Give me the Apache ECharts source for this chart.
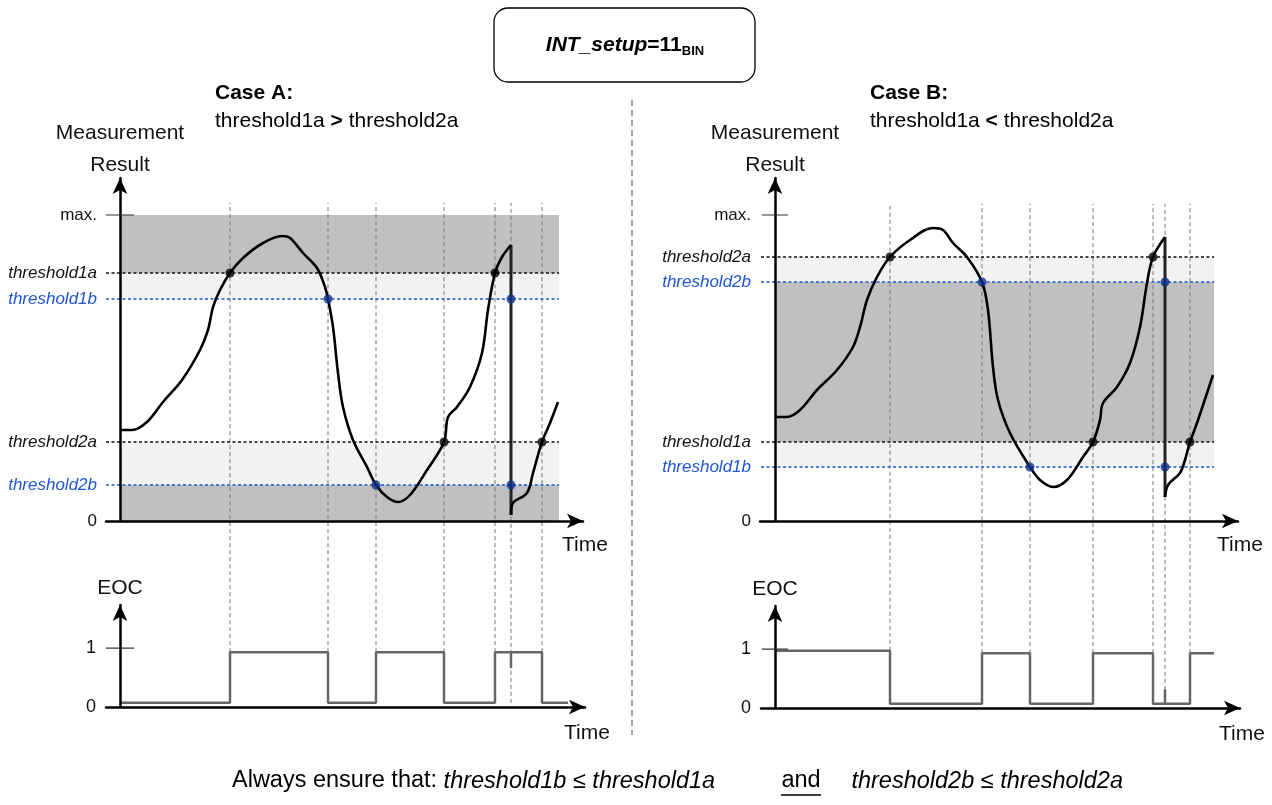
<!DOCTYPE html>
<html>
<head>
<meta charset="utf-8">
<script src="https://cdn.jsdelivr.net/npm/echarts@6/dist/echarts.min.js"></script>
<style>
  html, body { margin: 0; padding: 0; background: #fff; }
  #chart { width: 1272px; height: 805px; }
</style>
</head>
<body>
<div id="chart"></div>
<script>
/* ---------------- data (time in arbitrary units from the y axis, value in arbitrary units) ---------------- */
const thrNames = ['threshold1a', 'threshold1b', 'threshold2a', 'threshold2b'];
const maxLevel = 306;
const thrA = [248, 222, 79, 36];
const thrB = [79, 54, 264, 239];

// moments where the EOC flag changes
const eventsA = [110, 208, 256, 324, 375, 391, 422];
const eventsB = [115, 207, 255, 318, 378, 390, 415];
// EOC level where each dashed event line ends
const eventEocA = [0.93, 0.93, 0.93, 0.93, 0.93, 0.07, 0.93];
const eventEocB = [0.97, 0.93, 0.93, 0.93, 0.93, 0.07, 0.93];

// measurement curve, case A
const curveA1 = [[1, 91], [12, 91], [27, 99], [43, 119], [62, 141], [80, 171], [88, 191], [93, 214], [100, 231],
  [110, 248], [123, 263], [143, 278], [162, 285], [170, 283], [183, 268], [197, 253], [205, 234], [208, 222],
  [213, 194], [218, 148], [223, 114], [233, 81], [247, 54], [256, 36], [267, 24], [278, 19], [290, 26],
  [307, 51], [324, 79], [328, 104], [337, 114], [350, 134], [362, 168], [368, 211], [375, 248], [382, 264], [391, 276]];
const dropA = [[391, 276], [391, 6]];
const curveA2 = [[391, 6], [393, 18], [407, 28], [413, 48], [422, 79], [430, 98], [438, 119]];

// measurement curve, case B
const curveB1 = [[0, 104], [12, 104], [25, 111], [42, 131], [62, 151], [78, 174], [85, 194], [92, 221], [102, 244],
  [115, 264], [135, 281], [158, 293], [168, 291], [178, 278], [192, 264], [207, 239], [213, 211], [218, 154],
  [223, 121], [235, 88], [255, 54], [265, 41], [278, 34], [292, 41], [308, 64], [318, 79], [325, 101],
  [328, 118], [342, 134], [355, 158], [365, 194], [372, 238], [378, 264], [390, 284]];
const dropB = [[390, 284], [390, 24]];
const curveB2 = [[390, 24], [393, 36], [405, 48], [410, 61], [415, 79], [422, 98], [438, 146]];

// crossing points
const crossA_a = [[110, 248], [324, 79], [375, 248], [422, 79]];
const crossA_b = [[208, 222], [256, 36], [391, 222], [391, 36]];
const crossB_a = [[115, 264], [318, 79], [378, 264], [415, 79]];
const crossB_b = [[207, 239], [255, 54], [390, 239], [390, 54]];

// EOC flag
const eocA = [[0, 0.07], [110, 0.07], [110, 0.93], [208, 0.93], [208, 0.07], [256, 0.07], [256, 0.93], [324, 0.93],
  [324, 0.07], [375, 0.07], [375, 0.93], [391, 0.93], [391, 0.66], [391, 0.93], [422, 0.93], [422, 0.07], [448, 0.07]];
const eocB = [[0, 0.97], [115, 0.97], [115, 0.07], [207, 0.07], [207, 0.93], [255, 0.93], [255, 0.07], [318, 0.07],
  [318, 0.93], [378, 0.93], [378, 0.07], [390, 0.07], [390, 0.32], [390, 0.07], [415, 0.07], [415, 0.93], [439, 0.93]];

/* ---------------- style ---------------- */
const FONT = "'Liberation Sans',Arial,sans-serif";
const BLUE = '#1f55d0';
const NAVY = '#0b2f8a';
const DARK = '#c0c0c0';
const LIGHT = '#f2f2f2';
const bandEnd = 439;     // right edge of the shaded zone
const axisLeft = -14;    // where the horizontal axis starts
const eventTop = 8.55;   // top of the event lines in EOC units

let chart = echarts.init(document.getElementById('chart'), null, {renderer: 'canvas'});

function labelMap(thr) {
  const m = {0: '0', [maxLevel]: 'max.'};
  thr.forEach((v, i) => {
    m[v] = (i % 2 ? '{b|' : '{a|') + thrNames[i] + '}';
  });
  return m;
}

function topX(gi, min) {
  return {
    type: 'value', gridIndex: gi, min: min, max: 463, z: 6,
    axisLine: {lineStyle: {color: '#000', width: 2.5}, symbol: ['none', 'arrow'], symbolSize: [11, 16]},
    axisTick: {show: false}, axisLabel: {show: false}, splitLine: {show: false},
    name: 'Time', nameLocation: 'end', nameGap: 2,
    nameTextStyle: {fontFamily: FONT, fontSize: 21, color: '#111', align: 'center', verticalAlign: 'top', padding: [14, 0, 0, 0]}
  };
}

function topY(gi, thr) {
  const m = labelMap(thr);
  return {
    type: 'value', gridIndex: gi, min: 0, max: 343, z: 6,
    axisLine: {onZero: true, lineStyle: {color: '#000', width: 2.5}, symbol: ['none', 'arrow'], symbolSize: [11, 16]},
    axisTick: {show: false}, splitLine: {show: false},
    axisLabel: {
      customValues: [0, maxLevel].concat(thr), margin: 9,
      fontFamily: FONT, fontSize: 17, color: '#111',
      formatter: v => m[v],
      rich: {
        a: {fontFamily: FONT, fontSize: 17, fontStyle: 'italic', color: '#111'},
        b: {fontFamily: FONT, fontSize: 17, fontStyle: 'italic', color: BLUE}
      }
    },
    name: 'Measurement\nResult', nameLocation: 'end', nameGap: -3,
    nameTextStyle: {fontFamily: FONT, fontSize: 21, lineHeight: 32, color: '#111', align: 'center'}
  };
}

function eocX(gi, min) {
  return {
    type: 'value', gridIndex: gi, min: min, max: 465, z: 6,
    axisLine: {lineStyle: {color: '#000', width: 2.5}, symbol: ['none', 'arrow'], symbolSize: [11, 16]},
    axisTick: {show: false}, axisLabel: {show: false}, splitLine: {show: false},
    name: 'Time', nameLocation: 'end', nameGap: 2,
    nameTextStyle: {fontFamily: FONT, fontSize: 21, color: '#111', align: 'center', verticalAlign: 'top', padding: [16, 0, 0, 0]}
  };
}

function eocY(gi) {
  return {
    type: 'value', gridIndex: gi, min: 0, max: 1.73, z: 6,
    axisLine: {onZero: true, lineStyle: {color: '#000', width: 2.5}, symbol: ['none', 'arrow'], symbolSize: [11, 16]},
    axisTick: {show: false}, splitLine: {show: false},
    axisLabel: {customValues: [0, 1], margin: 10, fontFamily: FONT, fontSize: 18, color: '#111'},
    name: 'EOC', nameLocation: 'end', nameGap: 6,
    nameTextStyle: {fontFamily: FONT, fontSize: 21, color: '#111', align: 'center'}
  };
}

function bandAreas(thr, caseB) {
  const [t1a, t1b, t2a, t2b] = thr;
  const box = (lo, hi, c) => [{xAxis: 0, yAxis: hi, itemStyle: {color: c}}, {xAxis: bandEnd, yAxis: lo}];
  if (!caseB) {
    return [box(t1a, maxLevel, DARK), box(t1b, t1a, LIGHT), box(t2b, t2a, LIGHT), box(0, t2b, DARK)];
  }
  return [box(t2b, t2a, LIGHT), box(t1a, t2b, DARK), box(t1b, t1a, LIGHT)];
}

function panelSeries(xi, ei, thr, events, eventEoc, c1, drop, c2, dotsA, dotsB, eoc, caseB, tickHalf) {
  const s = [];
  // shaded zones
  s.push({
    type: 'line', xAxisIndex: xi, yAxisIndex: xi, data: [[0, 0]], showSymbol: false,
    lineStyle: {opacity: 0}, z: 1, silent: true,
    markArea: {silent: true, data: bandAreas(thr, caseB)}
  });
  // threshold lines
  thr.forEach((v, i) => {
    s.push({
      type: 'line', xAxisIndex: xi, yAxisIndex: xi, data: [[axisLeft, v], [bandEnd, v]],
      showSymbol: false, z: 3,
      lineStyle: {color: i % 2 ? BLUE : '#111', width: 1.5, type: [3, 2.5]}
    });
  });
  // "max." tick
  s.push({
    type: 'line', xAxisIndex: xi, yAxisIndex: xi, data: [[-tickHalf, maxLevel], [tickHalf, maxLevel]],
    showSymbol: false, z: 7, lineStyle: {color: '#333', width: 1.2}
  });
  // event lines, drawn in the EOC grid and running up through the measurement panel
  events.forEach((e, i) => {
    s.push({
      type: 'line', xAxisIndex: ei, yAxisIndex: ei, data: [[e, eventEoc[i]], [e, eventTop]],
      showSymbol: false, clip: false, z: 2,
      lineStyle: {color: '#777', width: 1, type: [4, 3]}
    });
  });
  // measurement curve
  [c1, c2].forEach(c => {
    s.push({
      type: 'line', xAxisIndex: xi, yAxisIndex: xi, data: c, smooth: 0.35, showSymbol: false, z: 8,
      lineStyle: {color: '#000', width: 2.6}
    });
  });
  s.push({
    type: 'line', xAxisIndex: xi, yAxisIndex: xi, data: drop, showSymbol: false, z: 7,
    lineStyle: {color: '#222', width: 3}
  });
  // crossing dots
  s.push({
    type: 'scatter', xAxisIndex: xi, yAxisIndex: xi, data: dotsA, symbolSize: 9, z: 9,
    itemStyle: {color: '#000'}
  });
  s.push({
    type: 'scatter', xAxisIndex: xi, yAxisIndex: xi, data: dotsB, symbolSize: 9, z: 9,
    itemStyle: {color: NAVY}
  });
  // EOC flag
  s.push({
    type: 'line', xAxisIndex: ei, yAxisIndex: ei, data: eoc, showSymbol: false, z: 5,
    lineStyle: {color: '#666', width: 2.5}
  });
  s.push({
    type: 'line', xAxisIndex: ei, yAxisIndex: ei, data: [[-tickHalf, 1], [tickHalf, 1]],
    showSymbol: false, z: 7, lineStyle: {color: '#333', width: 1.2}
  });
  return s;
}

const option = {
  animation: false,
  backgroundColor: '#fff',
  grid: [
    {left: 106, top: 178, width: 477, height: 343, outerBoundsMode: 'none', containLabel: false},
    {left: 106, top: 605, width: 479, height: 102, outerBoundsMode: 'none', containLabel: false},
    {left: 760, top: 178, width: 478, height: 343, outerBoundsMode: 'none', containLabel: false},
    {left: 761, top: 606, width: 479, height: 102, outerBoundsMode: 'none', containLabel: false}
  ],
  xAxis: [topX(0, -14), eocX(1, -14), topX(2, -15), eocX(3, -14)],
  yAxis: [topY(0, thrA), eocY(1), topY(2, thrB), eocY(3)],
  series: [].concat(
    panelSeries(0, 1, thrA, eventsA, eventEocA, curveA1, dropA, curveA2, crossA_a, crossA_b, eocA, false, 14),
    panelSeries(2, 3, thrB, eventsB, eventEocB, curveB1, dropB, curveB2, crossB_a, crossB_b, eocB, true, 13)
  ),
  graphic: [
    {
      type: 'rect', shape: {x: 494, y: 8, width: 261, height: 74, r: 14},
      style: {fill: '#fff', stroke: '#000', lineWidth: 1.3}
    },
    {
      type: 'text', x: 625, y: 45,
      style: {
        text: '{bi|INT_setup}{b|=11}{s|BIN}', align: 'center', verticalAlign: 'middle',
        rich: {
          bi: {fontFamily: FONT, fontSize: 21, fontWeight: 'bold', fontStyle: 'italic', fill: '#000'},
          b: {fontFamily: FONT, fontSize: 21, fontWeight: 'bold', fill: '#000'},
          s: {fontFamily: FONT, fontSize: 13, fontWeight: 'bold', fill: '#000', padding: [12, 0, 0, 0]}
        }
      }
    },
    {
      type: 'line', shape: {x1: 632, y1: 100, x2: 632, y2: 735},
      style: {stroke: '#445', lineWidth: 1, lineDash: [6, 4]}
    },
    {
      type: 'text', x: 215, y: 83,
      style: {text: 'Case A:', fontFamily: FONT, fontSize: 21, fontWeight: 'bold', fill: '#000'}
    },
    {
      type: 'text', x: 215, y: 111,
      style: {
        text: '{n|threshold1a }{b|>}{n| threshold2a}',
        rich: {
          n: {fontFamily: FONT, fontSize: 21, fill: '#000'},
          b: {fontFamily: FONT, fontSize: 21, fontWeight: 'bold', fill: '#000'}
        }
      }
    },
    {
      type: 'text', x: 870, y: 83,
      style: {text: 'Case B:', fontFamily: FONT, fontSize: 21, fontWeight: 'bold', fill: '#000'}
    },
    {
      type: 'text', x: 870, y: 111,
      style: {
        text: '{n|threshold1a }{b|<}{n| threshold2a}',
        rich: {
          n: {fontFamily: FONT, fontSize: 21, fill: '#000'},
          b: {fontFamily: FONT, fontSize: 21, fontWeight: 'bold', fill: '#000'}
        }
      }
    },
    {
      type: 'text', x: 232, y: 781,
      style: {
        text: '{n|Always ensure that: }{i|threshold1b ≤ threshold1a}', align: 'left', verticalAlign: 'middle',
        rich: {
          n: {fontFamily: FONT, fontSize: 23.5, fill: '#000'},
          i: {fontFamily: FONT, fontSize: 23.5, fontStyle: 'italic', fill: '#000'}
        }
      }
    },
    {
      type: 'text', x: 801, y: 781,
      style: {text: 'and', align: 'center', verticalAlign: 'middle', fontFamily: FONT, fontSize: 23.5, fill: '#000'}
    },
    {
      type: 'line', shape: {x1: 781, y1: 795, x2: 821, y2: 795},
      style: {stroke: '#000', lineWidth: 1.3}
    },
    {
      type: 'text', x: 1123, y: 781,
      style: {
        text: 'threshold2b ≤ threshold2a', align: 'right', verticalAlign: 'middle',
        fontFamily: FONT, fontSize: 23.5, fontStyle: 'italic', fill: '#000'
      }
    }
  ]
};

chart.setOption(option);
window.onresize = function () {
  chart.resize();
};
</script>
</body>
</html>
